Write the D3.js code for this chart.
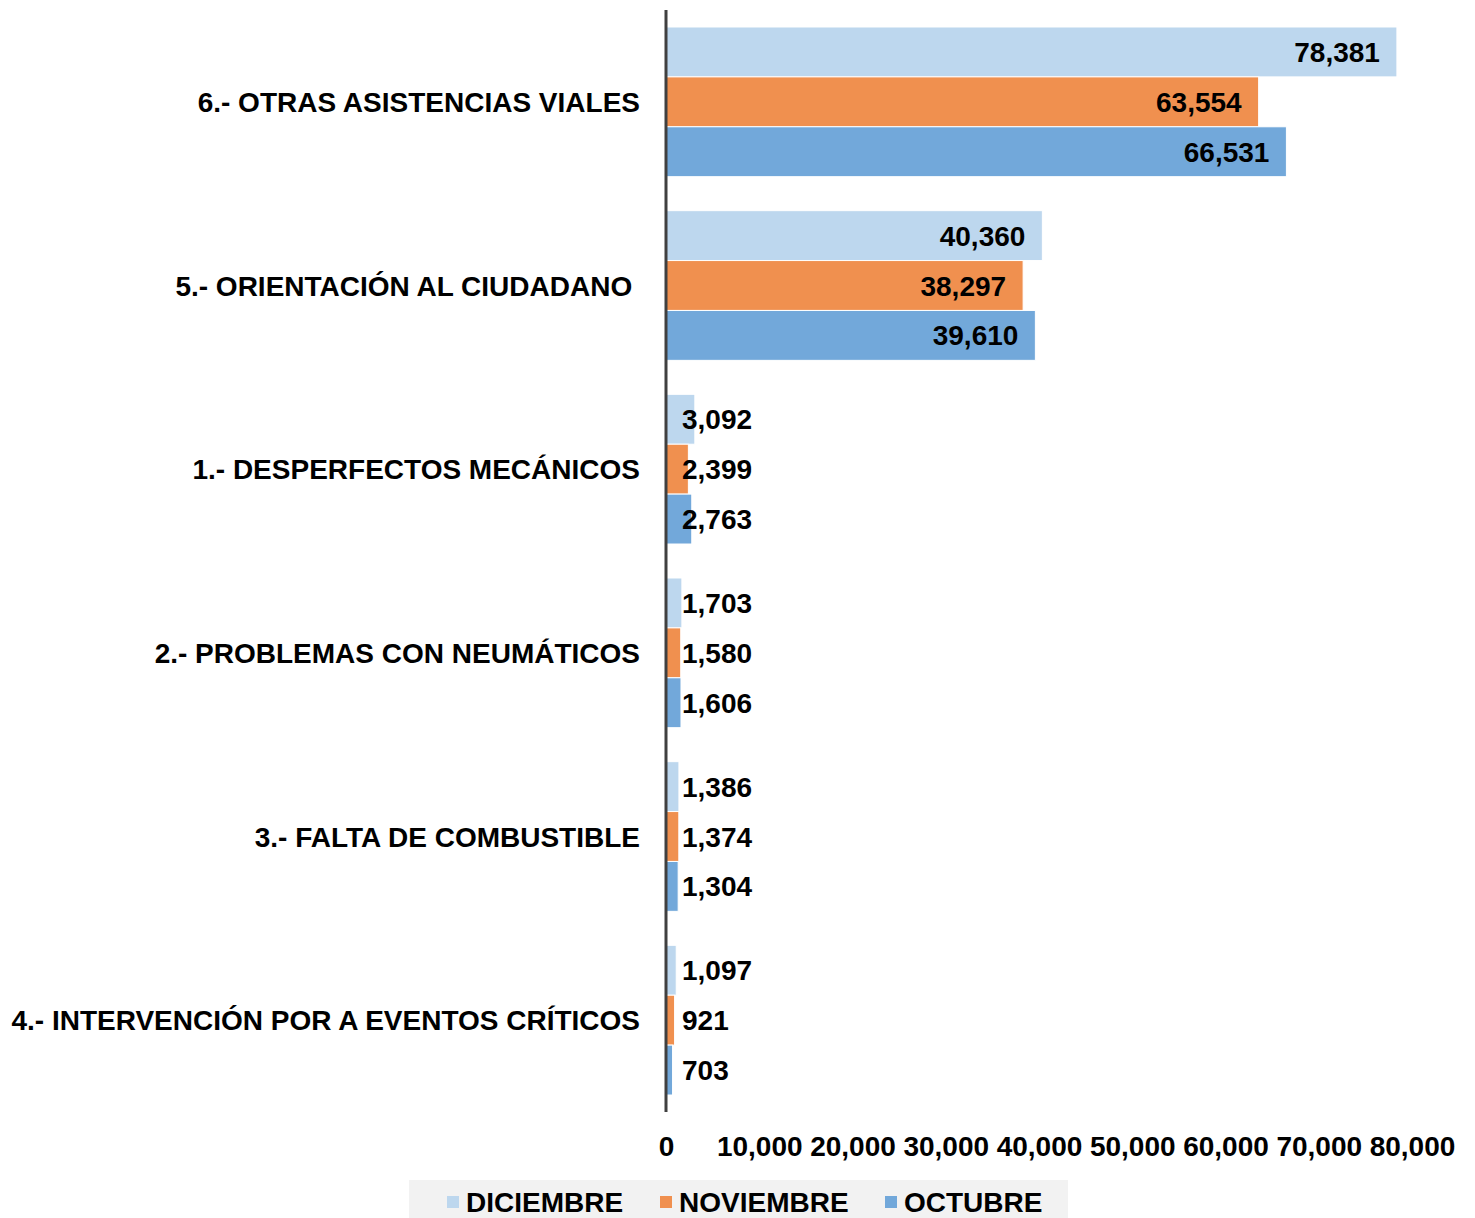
<!DOCTYPE html>
<html>
<head>
<meta charset="utf-8">
<script src="https://cdn.jsdelivr.net/npm/d3@7"></script>
<style>
    body { margin: 0; background: #fff; }
    svg { display: block; font-family: "Liberation Sans", Arial, sans-serif; }
</style>
</head>
<body>
<div id="chart"></div>
<script>
// categories from top to bottom
const categories = [
    "6.- OTRAS ASISTENCIAS VIALES",
    "5.- ORIENTACIÓN AL CIUDADANO ",
    "1.- DESPERFECTOS MECÁNICOS",
    "2.- PROBLEMAS CON NEUMÁTICOS",
    "3.- FALTA DE COMBUSTIBLE",
    "4.- INTERVENCIÓN POR A EVENTOS CRÍTICOS"
];
const seriesNames = ["DICIEMBRE", "NOVIEMBRE", "OCTUBRE"];
const diciembre = [78381, 40360, 3092, 1703, 1386, 1097];
const noviembre = [63554, 38297, 2399, 1580, 1374, 921];
const octubre = [66531, 39610, 2763, 1606, 1304, 703];
const tickValues = [0, 10000, 20000, 30000, 40000, 50000, 60000, 70000, 80000];
const colors = ["#BDD7EE", "#F0904F", "#72A8DA"];

render();

function render() {
    const width = 1475, height = 1218;
    const margin = { top: 10, left: 666, right: 63, bottom: 106 };

    const svg = d3.select('#chart').append('svg')
        .attr('width', width)
        .attr('height', height);

    const series = [diciembre, noviembre, octubre];
    const rows = categories.map((c, i) => ({
        name: c,
        values: seriesNames.map((s, j) => ({ key: s, value: series[j][i] }))
    }));

    const x = d3.scaleLinear()
        .domain([0, 80000])
        .range([margin.left, width - margin.right]);

    const y0 = d3.scaleBand()
        .domain(categories)
        .range([margin.top, height - margin.bottom])
        .paddingInner(0.185)
        .paddingOuter(0.0925);

    const y1 = d3.scaleBand()
        .domain(seriesNames)
        .range([0, y0.bandwidth()]);

    const color = d3.scaleOrdinal().domain(seriesNames).range(colors);
    const fmt = d3.format(',');

    const groups = svg.selectAll('g.group')
        .data(rows)
        .join('g')
        .attr('class', 'group')
        .attr('transform', d => `translate(0,${y0(d.name)})`);

    groups.selectAll('rect')
        .data(d => d.values)
        .join('rect')
        .attr('x', x(0))
        .attr('y', d => y1(d.key))
        .attr('width', d => x(d.value) - x(0))
        .attr('height', y1.bandwidth())
        .attr('fill', d => color(d.key))
        .attr('stroke', '#fff')
        .attr('stroke-width', 1);

    // value labels: inside end on long bars, past the axis on short ones
    groups.selectAll('text.val')
        .data(d => d.values)
        .join('text')
        .attr('class', 'val')
        .attr('x', d => d.value > 10000 ? x(d.value) - 17 : x(0) + 16)
        .attr('y', d => y1(d.key) + y1.bandwidth() / 2)
        .attr('dy', '0.36em')
        .attr('text-anchor', d => d.value > 10000 ? 'end' : 'start')
        .style('font-size', '28px')
        .style('font-weight', 'bold')
        .text(d => fmt(d.value));

    // category labels
    svg.selectAll('text.cat')
        .data(categories)
        .join('text')
        .attr('class', 'cat')
        .attr('x', margin.left - 26)
        .attr('y', d => y0(d) + y0.bandwidth() / 2)
        .attr('dy', '0.36em')
        .attr('text-anchor', 'end')
        .style('white-space', 'pre')
        .style('font-size', '28px')
        .style('font-weight', 'bold')
        .text(d => d);

    // x axis
    const xAxis = svg.append('g')
        .attr('transform', `translate(0,${height - margin.bottom})`)
        .call(d3.axisBottom(x).tickValues(tickValues).tickFormat(fmt).tickSize(0).tickPadding(24));
    xAxis.select('.domain').remove();
    xAxis.selectAll('text')
        .style('font-size', '28px')
        .style('font-weight', 'bold')
        .style('font-family', '"Liberation Sans", Arial, sans-serif')
        .attr('fill', '#000');

    // vertical axis line
    svg.append('line')
        .attr('x1', x(0)).attr('x2', x(0))
        .attr('y1', margin.top).attr('y2', height - margin.bottom)
        .attr('stroke', '#404040')
        .attr('stroke-width', 3);

    // legend
    const legend = svg.append('g');
    legend.append('rect')
        .attr('x', 409).attr('y', 1180)
        .attr('width', 659).attr('height', 40)
        .attr('fill', '#F2F2F2');
    const legendX = [447, 660, 885];
    const items = legend.selectAll('g.item')
        .data(seriesNames)
        .join('g')
        .attr('class', 'item')
        .attr('transform', (d, i) => `translate(${legendX[i]},1196)`);
    items.append('rect')
        .attr('width', 12).attr('height', 12)
        .attr('fill', d => color(d));
    items.append('text')
        .attr('x', 19).attr('y', 16)
        .style('font-size', '28px')
        .style('font-weight', 'bold')
        .text(d => d);
}
</script>
</body>
</html>
